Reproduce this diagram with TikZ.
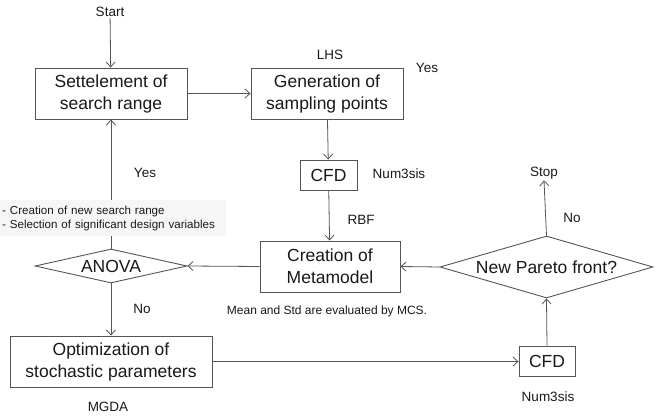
\documentclass[tikz,border=0pt]{standalone}
\usepackage{fontspec}
\setmainfont{Liberation Sans}
\usetikzlibrary{shapes.geometric,arrows.meta}
\definecolor{ln}{RGB}{85,85,85}
\definecolor{notebg}{RGB}{246,246,246}
\definecolor{tx}{RGB}{25,25,25}
\begin{document}
\begin{tikzpicture}[x=1pt,y=-1pt,
 box/.style={draw=ln, line width=0.9pt, fill=white, align=center, text=tx, font=\fontsize{17.5}{22}\selectfont, inner sep=0pt},
 dia/.style={diamond, draw=ln, line width=0.9pt, fill=white, text=tx, font=\fontsize{17.5}{22}\selectfont, inner sep=0pt},
 lbl/.style={font=\fontsize{13.5}{16}\selectfont, inner sep=1pt, text=tx},
 sm/.style={font=\fontsize{12}{14}\selectfont, inner sep=1pt, text=tx},
 arr/.style={draw=ln, line width=0.8pt, -{Straight Barb[length=5pt,width=9pt]}}]
\useasboundingbox[fill=white] (0,0) rectangle (659,419);
\node[box, minimum width=152pt, minimum height=51pt] (settle) at (111,93.5) {Settelement of\\search range};
\node[box, minimum width=152pt, minimum height=51pt] (gen) at (327,93.5) {Generation of\\sampling points};
\node[box, minimum width=57pt, minimum height=30pt] (cfda) at (328.5,175) {CFD};
\node[box, minimum width=140pt, minimum height=51pt] (meta) at (330,266.5) {Creation of\\Metamodel};
\node[dia, minimum width=152pt, minimum height=34pt, aspect=4.47] (anova) at (111,266) {ANOVA};
\node[box, minimum width=202pt, minimum height=51pt] (opt) at (111,361.5) {Optimization of\\stochastic parameters};
\node[box, minimum width=56pt, minimum height=30pt] (cfdb) at (547,361) {CFD};
\node[dia, minimum width=213pt, minimum height=62pt, aspect=3.44] (pareto) at (546.5,267) {New Pareto front?};

\node[lbl] (start) at (110,12) {Start};
\node[lbl] (stop) at (544,173) {Stop};
\node[lbl] (lhs) at (330,55) {LHS};
\node[lbl] (yesa) at (427,68) {Yes};
\node[lbl] (numa) at (399,174) {Num3sis};
\node[lbl] (rbf) at (361,220) {RBF};
\node[lbl] (yesb) at (145,173) {Yes};
\node[lbl] (noa) at (142,309) {No};
\node[lbl] (mgda) at (108,407) {MGDA};
\node[lbl] (numb) at (548,397) {Num3sis};
\node[lbl] (nob) at (572,218) {No};
\node[sm] (mean) at (327,311) {Mean and Std are evaluated by MCS.};

\draw[arr] (start) -- (settle);
\draw[arr] (settle) -- (gen);
\draw[arr] (gen) -- (cfda);
\draw[arr] (cfda) -- (meta);
\draw[arr] (meta.west) -- (anova.east);
\draw[arr] (pareto.west) -- (meta.east);
\draw[arr] (anova.north) -- (settle.south);
\draw[arr] (anova.south) -- (opt.north);
\draw[arr] (opt.east) -- (opt.east -| cfdb.west);
\draw[arr] (cfdb.north) -- (pareto.south);
\draw[arr] (pareto.north) -- (stop.south);

\node[fill=notebg, anchor=north west, text width=222pt, align=left, inner sep=2pt, minimum height=36pt, font=\fontsize{11.6}{14}\selectfont, text=tx] (note) at (0,200) {- Creation of new search range\\- Selection of significant design variables};
\end{tikzpicture}
\end{document}
